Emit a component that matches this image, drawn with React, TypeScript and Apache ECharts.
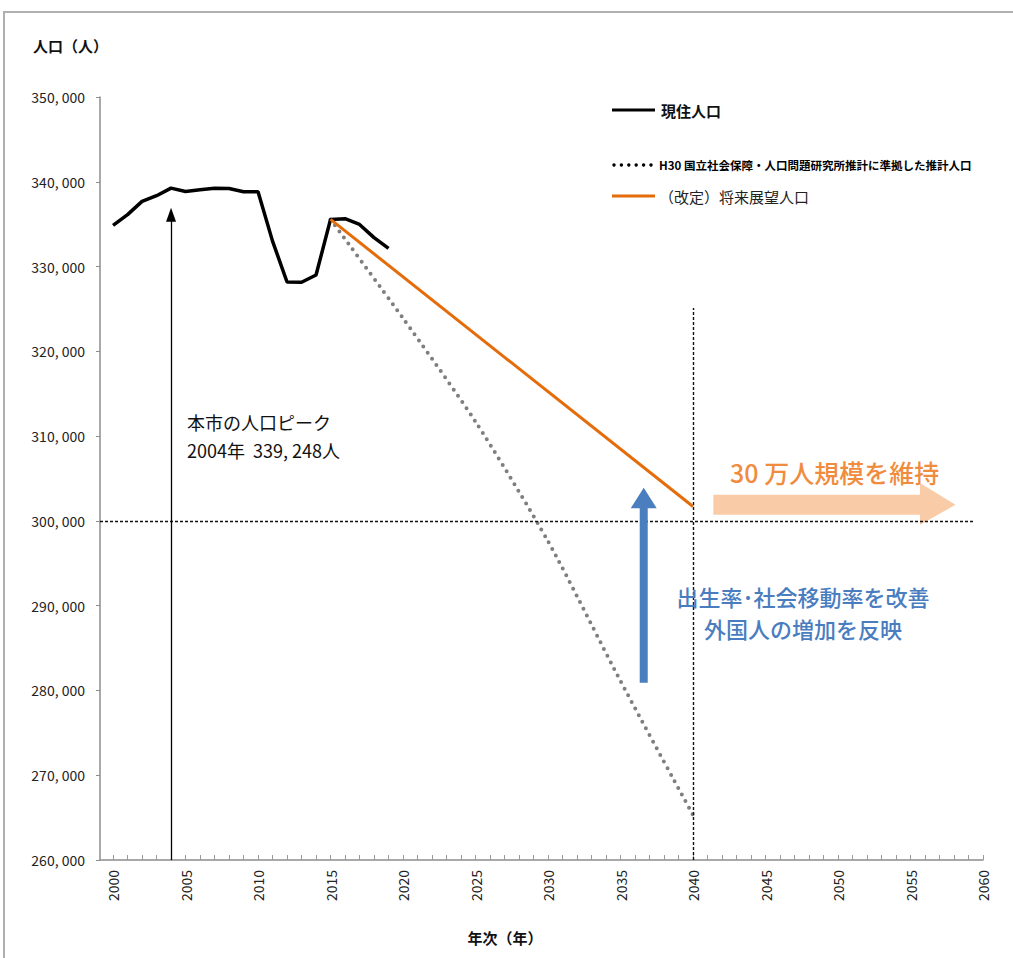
import React, { useEffect, useRef } from "react";
import * as echarts from "echarts";

// ---- data ----
const residentYears = [2000, 2001, 2002, 2003, 2004, 2005, 2006, 2007, 2008, 2009, 2010, 2011, 2012, 2013, 2014, 2015, 2016, 2017, 2018, 2019];
const residentPop = [334860, 336130, 337690, 338360, 339248, 338860, 339060, 339240, 339200, 338820, 338820, 333000, 328180, 328150, 329000, 335560, 335640, 334970, 333410, 332140];

const ipssYears = [2015, 2020, 2025, 2030, 2035, 2040];
const ipssPop = [335560, 323900, 311700, 297600, 281100, 265300];

const visionYears = [2015, 2040];
const visionPop = [335560, 301700];

const xLabelYears = [2000, 2005, 2010, 2015, 2020, 2025, 2030, 2035, 2040, 2045, 2050, 2055, 2060];
const xTickYears = Array.from({ length: 61 }, (_, i) => 2000 + i);

const seriesNames = ["現住人口", "H30 国立社会保障・人口問題研究所推計に準拠した推計人口", "（改定）将来展望人口"];

const peakYear = 2004;
const threshold = 300000;
const targetYear = 2040;

const X_MIN = 1999.1;
const X_MAX = 2060;
const FONT = '"Noto Sans CJK JP", "Noto Sans", sans-serif';

const zip = (xs: number[], ys: number[]) => xs.map((x, i) => [x, ys[i]]);

export default function App() {
  const ref = useRef<HTMLDivElement>(null);
  useEffect(() => {
    const chart = echarts.init(ref.current!, null, { renderer: "svg" });
    chart.setOption({
      animation: false,
      grid: { left: 100, right: 30, top: 97, bottom: 98 },
      xAxis: {
        type: "value",
        min: X_MIN,
        max: X_MAX,
        axisLine: { lineStyle: { color: "#8c8c8c", width: 1.5 } },
        axisTick: { customValues: xTickYears, inside: true, length: 5, lineStyle: { color: "#9a9a9a" } },
        axisLabel: {
          customValues: xLabelYears,
          rotate: 90,
          margin: 10,
          color: "#222",
          fontSize: 14,
          fontFamily: FONT,
          formatter: (v: number) => String(Math.round(v)),
        },
        splitLine: { show: false },
      },
      yAxis: {
        type: "value",
        min: 260000,
        max: 350000,
        interval: 10000,
        axisLine: { show: true, lineStyle: { color: "#8c8c8c", width: 1.5 } },
        axisTick: { show: true, length: 4, lineStyle: { color: "#8c8c8c" } },
        axisLabel: {
          margin: 15,
          color: "#222",
          fontSize: 14,
          fontFamily: FONT,
          formatter: (v: number) => `${Math.round(v / 1000)}, 000`,
        },
        splitLine: { show: false },
      },
      series: [
        {
          name: seriesNames[0],
          type: "line",
          data: zip(residentYears, residentPop),
          showSymbol: false,
          lineStyle: { color: "#000", width: 3.5 },
          z: 4,
          markLine: {
            silent: true,
            symbol: "none",
            label: { show: false },
            data: [
              [
                { coord: [X_MIN, threshold], lineStyle: { color: "#111", width: 1.4, type: [3, 2] } },
                { coord: [2059.4, threshold] },
              ],
              [
                { coord: [targetYear, 260000], lineStyle: { color: "#111", width: 1.4, type: [3, 2] } },
                { coord: [targetYear, 325100] },
              ],
            ],
          },
        },
        {
          name: seriesNames[1],
          type: "line",
          data: zip(ipssYears, ipssPop),
          showSymbol: false,
          smooth: 0.25,
          lineStyle: { color: "#7f7f7f", width: 4, type: [0, 7.5], cap: "round" },
          z: 3,
        },
        {
          name: seriesNames[2],
          type: "line",
          data: zip(visionYears, visionPop),
          showSymbol: false,
          lineStyle: { color: "#e46c0a", width: 3 },
          z: 5,
          markLine: {
            silent: true,
            symbol: ["none", "triangle"],
            symbolSize: [10, 14],
            label: { show: false },
            lineStyle: { color: "#000", width: 1.3, type: "solid" },
            data: [[{ coord: [peakYear, 260000] }, { coord: [peakYear, 336100] }]],
          },
        },
      ],
    });

    const p = (x: number, y: number) => chart.convertToPixel({ gridIndex: 0 }, [x, y]) as number[];

    // blue arrow (up)
    const bx = p(2036.6, 0)[0];
    const bBottom = p(0, 280900)[1];
    const bBase = p(0, 301500)[1];
    const bTip = p(0, 303900)[1];
    const blueArrow = [
      [bx - 4, bBottom], [bx - 4, bBase], [bx - 13, bBase], [bx, bTip],
      [bx + 13, bBase], [bx + 4, bBase], [bx + 4, bBottom],
    ];

    // peach arrow (right)
    const pl = p(2041.4, 0)[0];
    const pb = p(2055.65, 0)[0];
    const pt = p(2058.1, 0)[0];
    const bodyTop = p(0, 303070)[1];
    const bodyBot = p(0, 300710)[1];
    const headTop = p(0, 304480)[1];
    const headBot = p(0, 299530)[1];
    const midY = (bodyTop + bodyBot) / 2;
    const peachArrow = [
      [pl, bodyTop], [pb, bodyTop], [pb, headTop], [pt, midY],
      [pb, headBot], [pb, bodyBot], [pl, bodyBot],
    ];

    const txt = (text: string, x: number, y: number, size: number, fill: string, opts: any = {}) => ({
      type: "text",
      z: 10,
      style: {
        text, x, y, fill,
        font: `${opts.weight || "normal"} ${size}px ${FONT}`,
        textAlign: opts.align || "left",
        align: opts.align || "left",
        textVerticalAlign: "middle",
        verticalAlign: "middle",
      },
    });

    const dots = Array.from({ length: 6 }, (_, i) => ({
      type: "circle",
      z: 10,
      shape: { cx: 614 + i * 7.4, cy: 165, r: 1.7 },
      style: { fill: "#000" },
    }));

    chart.setOption({
      graphic: [
        { type: "rect", z: 0, shape: { x: 4, y: 12, width: 1100, height: 1000 }, style: { fill: "none", stroke: "#b0b0b0", lineWidth: 2 } },
        txt("人口（人）", 33, 45, 15, "#111", { weight: "bold" }),
        txt("年次（年）", 505, 937, 15, "#111", { weight: "bold", align: "center" }),
        // legend
        { type: "line", z: 10, shape: { x1: 612, y1: 110, x2: 655, y2: 110 }, style: { stroke: "#000", lineWidth: 3 } },
        txt(seriesNames[0], 661, 110, 15, "#111", { weight: "bold" }),
        ...dots,
        txt(seriesNames[1], 659, 165, 11.5, "#000", { weight: "bold" }),
        { type: "line", z: 10, shape: { x1: 612, y1: 196, x2: 655, y2: 196 }, style: { stroke: "#e46c0a", lineWidth: 3 } },
        txt(seriesNames[2], 659, 196, 15, "#222"),
        // annotations
        txt("本市の人口ピーク", 187, 422, 18, "#111"),
        txt(`${peakYear}年  339, 248人`, 187, 450, 18, "#111"),
        { type: "polygon", z: 1, shape: { points: peachArrow }, style: { fill: "#f9cba6" } },
        txt("30 万人規模を維持", 730, 472, 25, "#f08c3e", { weight: 500 }),
        { type: "polygon", z: 6, shape: { points: blueArrow }, style: { fill: "#4a7ebf" } },
        txt("出生率･社会移動率を改善", 803, 596, 22, "#4a7dbf", { weight: 500, align: "center" }),
        txt("外国人の増加を反映", 803, 628, 22, "#4a7dbf", { weight: 500, align: "center" }),
      ],
    });

    return () => chart.dispose();
  }, []);

  return (
    <div
      ref={ref}
      style={{ position: "absolute", left: 0, top: 0, width: 1013, height: 958, background: "#fff" }}
    />
  );
}
